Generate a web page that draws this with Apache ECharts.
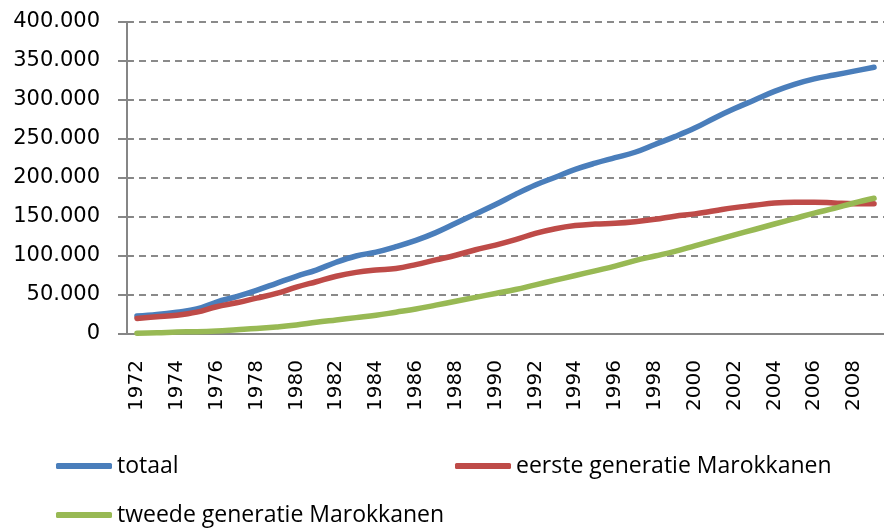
<!DOCTYPE html>
<html>
<head>
<meta charset="utf-8">
<script src="https://cdn.jsdelivr.net/npm/echarts@6/dist/echarts.min.js"></script>
<style>
  html, body { margin: 0; padding: 0; background: #fff; }
  #chart { width: 884px; height: 529px; }
</style>
</head>
<body>
<div id="chart"></div>
<script>
// jaren 1972 - 2009
const years = ['1972','1973','1974','1975','1976','1977','1978','1979','1980','1981',
  '1982','1983','1984','1985','1986','1987','1988','1989','1990','1991',
  '1992','1993','1994','1995','1996','1997','1998','1999','2000','2001',
  '2002','2003','2004','2005','2006','2007','2008','2009']

// aantallen
const totaal = [23000,25000,28000,32000,41000,48000,56000,65000,74000,82000,
  92000,100000,105000,112000,120000,130000,142000,154000,166000,179000,
  191000,201000,211000,219000,226000,233000,243000,253000,264000,277000,
  289000,300000,311000,320000,327000,332000,337000,342000]
const eerste = [20000,22000,24000,28000,35000,40000,46000,52000,60000,67000,
  74000,79000,82000,84000,89000,95000,101000,108000,114000,121000,
  129000,135000,139000,141000,142000,144000,147000,151000,154000,158000,
  162000,165000,168000,169000,169000,168000,167000,167000]
const tweede = [1000,1500,2500,3000,4000,5500,7000,9000,11500,15000,
  18000,21000,24000,28000,32000,37000,42000,47000,52000,57000,
  63000,69000,75000,81000,87000,94000,100000,106000,113000,120000,
  127000,134000,141000,148000,155000,161000,168000,174000]

const yTicks = [0, 50000, 100000, 150000, 200000, 250000, 300000, 350000, 400000]

const chart = echarts.init(document.getElementById('chart'))
const axisGrey = '#868686'
const fmt = v => v === 0 ? '0' : (v / 1000) + '.000'

const legendText = { fontFamily: 'Open Sans', fontSize: 23, color: '#000', lineHeight: 30 }
const legendBase = {
  orient: 'horizontal', padding: 0, itemWidth: 56, itemHeight: 6,
  icon: 'roundRect', textStyle: legendText, selectedMode: false
}

const option = {
  animation: false,
  grid: { left: 127, top: 22, width: 760, height: 312 },
  legend: [
    Object.assign({ left: 56, top: 451, data: ['totaal'] }, legendBase),
    Object.assign({ left: 455, top: 451, data: ['eerste generatie Marokkanen'] }, legendBase),
    Object.assign({ left: 56, top: 500, data: ['tweede generatie Marokkanen'] }, legendBase)
  ],
  xAxis: {
    type: 'category',
    data: years,
    boundaryGap: true,
    axisLine: { lineStyle: { color: axisGrey, width: 2 } },
    axisTick: { interval: 0, length: 8, lineStyle: { color: axisGrey, width: 2 } },
    axisLabel: {
      interval: 1, rotate: 90, margin: 26,
      fontFamily: 'DejaVu Sans', fontSize: 20, color: '#000'
    }
  },
  yAxis: [
    {
      type: 'value', min: 0, max: 400000, interval: 50000,
      axisLine: { show: true, lineStyle: { color: axisGrey, width: 2 } },
      axisTick: { show: true, length: 9, lineStyle: { color: axisGrey, width: 2 } },
      axisLabel: {
        margin: 27, fontFamily: 'DejaVu Sans', fontSize: 21, color: '#000',
        formatter: v => yTicks.includes(v) ? fmt(v) : ''
      },
      splitLine: { show: true, lineStyle: { color: '#8a8a8a', width: 2, type: [7, 5] } }
    },
    {
      // kruisende tickjes aan de binnenkant
      type: 'value', min: 0, max: 400000, interval: 50000, position: 'left',
      axisLine: { show: false },
      axisTick: { show: true, inside: true, length: 6, lineStyle: { color: axisGrey, width: 2 } },
      axisLabel: { show: false },
      splitLine: { show: false }
    }
  ],
  series: [
    {
      name: 'totaal', type: 'line', data: totaal, smooth: 0.4,
      symbol: 'none', color: '#4a7ebb',
      lineStyle: { width: 5.5, cap: 'round', join: 'round' }
    },
    {
      name: 'eerste generatie Marokkanen', type: 'line', data: eerste, smooth: 0.4,
      symbol: 'none', color: '#be4b48',
      lineStyle: { width: 5.5, cap: 'round', join: 'round' }
    },
    {
      name: 'tweede generatie Marokkanen', type: 'line', data: tweede, smooth: 0.4,
      symbol: 'none', color: '#98b954',
      lineStyle: { width: 5.5, cap: 'round', join: 'round' }
    }
  ]
}
chart.setOption(option)
</script>
</body>
</html>
